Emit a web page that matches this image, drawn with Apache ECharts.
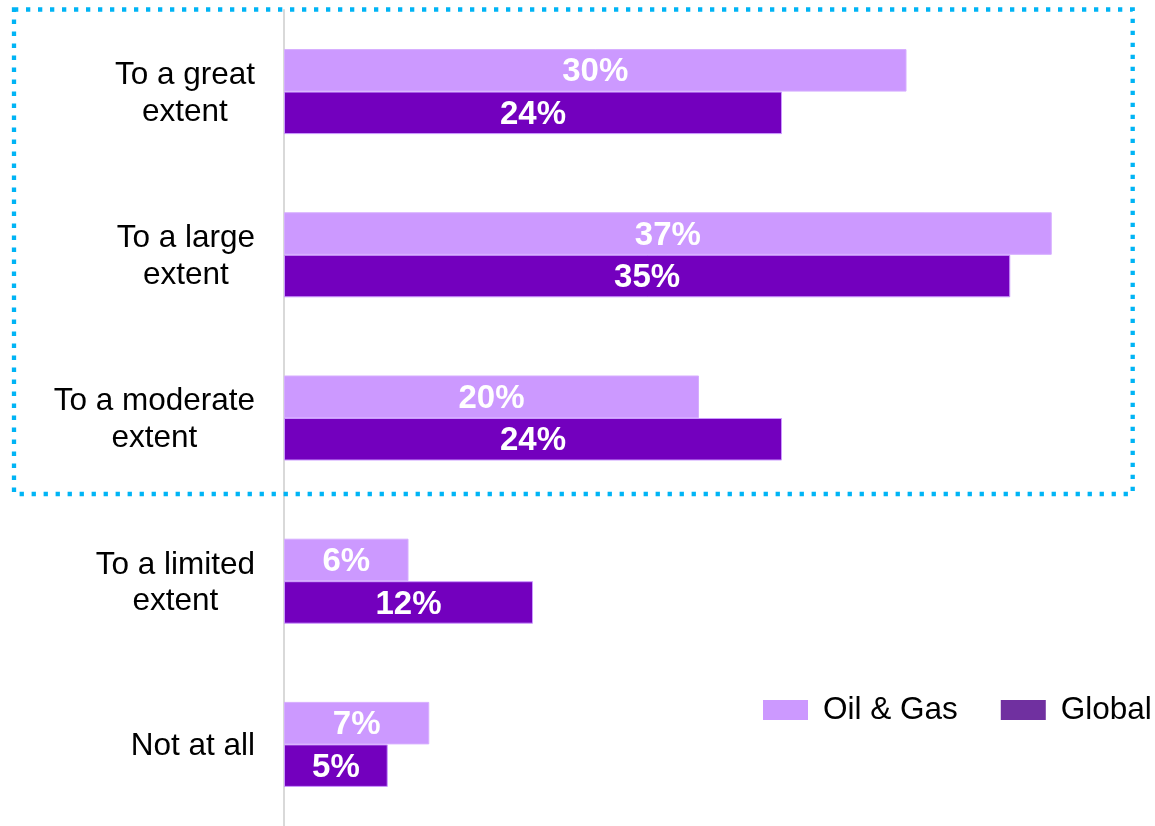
<!DOCTYPE html>
<html>
<head>
<meta charset="utf-8">
<script src="https://cdn.jsdelivr.net/npm/echarts@6/dist/echarts.min.js"></script>
<style>
  html, body { margin: 0; padding: 0; background: #fff; }
  #chart { width: 1155px; height: 826px; }
</style>
</head>
<body>
<div id="chart"></div>
<script>
// Survey answers, top to bottom
const categories = [
  'To a great\nextent',
  'To a large\nextent',
  'To a moderate\nextent',
  'To a limited\nextent',
  'Not at all'
];
const seriesNames = ['Oil & Gas', 'Global'];
const oilGasValues = [30, 37, 20, 6, 7];
const globalValues = [24, 35, 24, 12, 5];

const FONT = "'Liberation Sans', Arial, Helvetica, sans-serif";
const LIGHT = '#CC99FF';
const DARK = '#7300BE';

const chart = echarts.init(document.getElementById('chart'), null, { renderer: 'canvas' });

const valueLabel = {
  show: true,
  position: 'inside',
  offset: [0, 2],
  formatter: '{c}%',
  color: '#fff',
  fontFamily: FONT,
  fontWeight: 'bold',
  fontSize: 33
};

chart.setOption({
  backgroundColor: '#fff',
  animation: false,
  grid: { left: 284, width: 830, top: 10, height: 820, containLabel: false },
  xAxis: {
    type: 'value',
    min: 0,
    max: 40,
    show: false
  },
  yAxis: {
    type: 'category',
    inverse: true,
    data: categories,
    axisLine: { show: true, lineStyle: { color: '#D9D9D9', width: 2 } },
    axisTick: { show: false },
    splitLine: { show: false },
    axisLabel: {
      margin: 29,
      padding: [4, 0, 0, 0],
      formatter: function (v) {
        return v.split('\n').map(function (l) { return '{c|' + l + '}'; }).join('\n');
      },
      rich: {
        c: {
          align: 'center',
          fontFamily: FONT,
          fontSize: 31.5,
          lineHeight: 36.5,
          color: '#000'
        }
      }
    }
  },
  legend: {
    left: 763,
    top: 692,
    padding: 0,
    itemWidth: 45,
    itemHeight: 20,
    itemGap: 43,
    icon: 'rect',
    itemStyle: { borderWidth: 0 },
    textStyle: {
      fontFamily: FONT,
      fontSize: 31.5,
      lineHeight: 36,
      color: '#000',
      padding: [0, 0, 0, 10]
    },
    data: [
      { name: seriesNames[0], itemStyle: { color: LIGHT, borderWidth: 0 } },
      { name: seriesNames[1], itemStyle: { color: '#7030A0', borderWidth: 0 } }
    ]
  },
  series: [
    {
      name: seriesNames[0],
      type: 'bar',
      data: oilGasValues,
      barWidth: 42.5,
      barGap: '0%',
      itemStyle: { color: LIGHT, borderColor: '#D6ADFF', borderWidth: 1 },
      label: valueLabel
    },
    {
      name: seriesNames[1],
      type: 'bar',
      data: globalValues,
      barWidth: 42.5,
      barGap: '0%',
      itemStyle: { color: DARK, borderColor: LIGHT, borderWidth: 1 },
      label: valueLabel
    }
  ],
  graphic: [
    {
      type: 'rect',
      silent: true,
      z: 100,
      shape: { x: 14, y: 9.5, width: 1118.7, height: 484.5 },
      style: {
        fill: 'none',
        stroke: '#00B4F5',
        lineWidth: 4.3,
        lineDash: [4.3, 7.7]
      }
    }
  ]
});
</script>
</body>
</html>
